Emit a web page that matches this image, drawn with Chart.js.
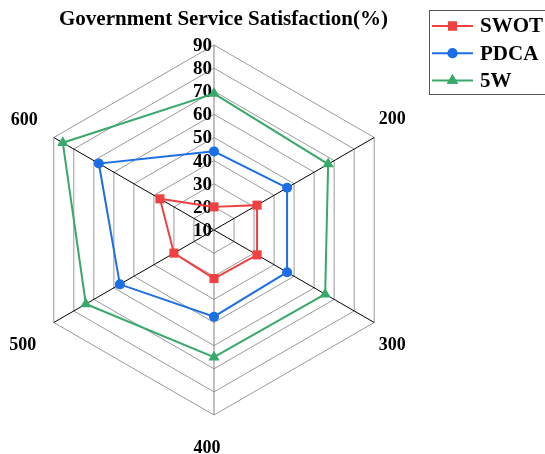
<!DOCTYPE html>
<html>
<head>
<meta charset="utf-8">
<script src="https://cdn.jsdelivr.net/npm/chart.js@4/dist/chart.umd.min.js"></script>
<style>
  html, body { margin: 0; padding: 0; background: #fff; }
  #wrap { width: 545px; height: 454px; position: relative; }
</style>
</head>
<body>
<div id="wrap"><canvas id="c"></canvas></div>
<script>
// ---- data ----
const categories = ['100', '200', '300', '400', '500', '600'];
const seriesNames = ['SWOT', 'PDCA', '5W'];
const swotValues = [20, 31.5, 31.5, 31, 30, 37];
const pdcaValues = [44, 46.5, 46.5, 47.5, 57, 67.5];
const fiveWValues = [69, 67, 65.5, 65, 74, 85.5];
const tickValues = [10, 20, 30, 40, 50, 60, 70, 80, 90];
const titleText = 'Government Service Satisfaction(%)';

const SERIF = '"Liberation Serif", "Times New Roman", serif';
const colors = ['#ef4141', '#1c6ee6', '#38a96a'];
const styles = ['rect', 'circle', 'triangle'];
const radii = [6.4, 5, 6.5];

// tick labels drawn over grid, under data
const tickPlugin = {
  id: 'tickLabels',
  beforeDatasetsDraw(chart) {
    const ctx = chart.ctx;
    const s = chart.scales.r;
    ctx.save();
    ctx.font = 'bold 19px ' + SERIF;
    ctx.fillStyle = '#000';
    ctx.textAlign = 'right';
    ctx.textBaseline = 'middle';
    tickValues.forEach(v => {
      const d = s.getDistanceFromCenterForValue(v);
      ctx.fillText(String(v), s.xCenter - 2, s.yCenter - d + 1);
    });
    ctx.restore();
  }
};

// title, point labels and legend box
const decorPlugin = {
  id: 'decor',
  afterDatasetsDraw(chart) {
    const ctx = chart.ctx;
    const s = chart.scales.r;
    ctx.save();
    ctx.fillStyle = '#000';
    ctx.textBaseline = 'middle';
    // title
    ctx.font = 'bold 21px ' + SERIF;
    ctx.textAlign = 'center';
    ctx.fillText(titleText, s.xCenter + 9.5, 20);
    // point labels
    ctx.font = 'bold 18px ' + SERIF;
    const offs = [null, ['left', 4.5, -18], ['left', 4.5, 23], ['center', -7, 33], ['right', -17.5, 23], ['right', -16, -17]];
    categories.forEach((lab, i) => {
      const o = offs[i];
      if (!o) return;
      const p = s.getPointPosition(i, s.drawingArea);
      ctx.textAlign = o[0];
      ctx.fillText(lab, p.x + o[1], p.y + o[2]);
    });
    // legend
    const lx = 429.5, ly = 10.5;
    ctx.strokeStyle = '#555';
    ctx.lineWidth = 1;
    ctx.strokeRect(lx, ly, 140, 84);
    ctx.font = 'bold 21px ' + SERIF;
    ctx.textAlign = 'left';
    chart.data.datasets.forEach((ds, i) => {
      const y = 26 + i * 27.2;
      ctx.strokeStyle = ds.borderColor;
      ctx.lineWidth = 2;
      ctx.beginPath();
      ctx.moveTo(432, y);
      ctx.lineTo(473, y);
      ctx.stroke();
      ctx.fillStyle = ds.borderColor;
      Chart.helpers.drawPoint(ctx, {pointStyle: ds.pointStyle, radius: ds.pointRadius, rotation: 0, borderWidth: 0}, 452.5, y);
      ctx.fill();
      ctx.fillStyle = '#000';
      ctx.fillText(ds.label, 480, y + 1);
    });
    ctx.restore();
  }
};

const valueSets = [swotValues, pdcaValues, fiveWValues];

new Chart(document.getElementById('c'), {
  type: 'radar',
  data: {
    labels: categories,
    datasets: seriesNames.map((name, i) => ({
      label: name,
      data: valueSets[i],
      borderColor: colors[i],
      backgroundColor: colors[i],
      pointBackgroundColor: colors[i],
      pointBorderColor: colors[i],
      pointBorderWidth: 0,
      pointStyle: styles[i],
      pointRadius: radii[i],
      borderWidth: 2,
      fill: false,
      tension: 0
    }))
  },
  options: {
    responsive: true,
    maintainAspectRatio: false,
    animation: false,
    layout: { padding: { left: 29, right: 146, top: 45, bottom: 39 } },
    plugins: {
      legend: { display: false },
      tooltip: { enabled: false },
      title: { display: false }
    },
    scales: {
      r: {
        min: 10,
        max: 90,
        ticks: { stepSize: 10, display: false },
        pointLabels: { display: false },
        grid: { color: '#999', lineWidth: 1 },
        angleLines: {
          color: ctx => (ctx.index === 0 || ctx.index === 3) ? '#808080' : '#000',
          lineWidth: 1
        }
      }
    }
  },
  plugins: [tickPlugin, decorPlugin]
});
</script>
</body>
</html>
